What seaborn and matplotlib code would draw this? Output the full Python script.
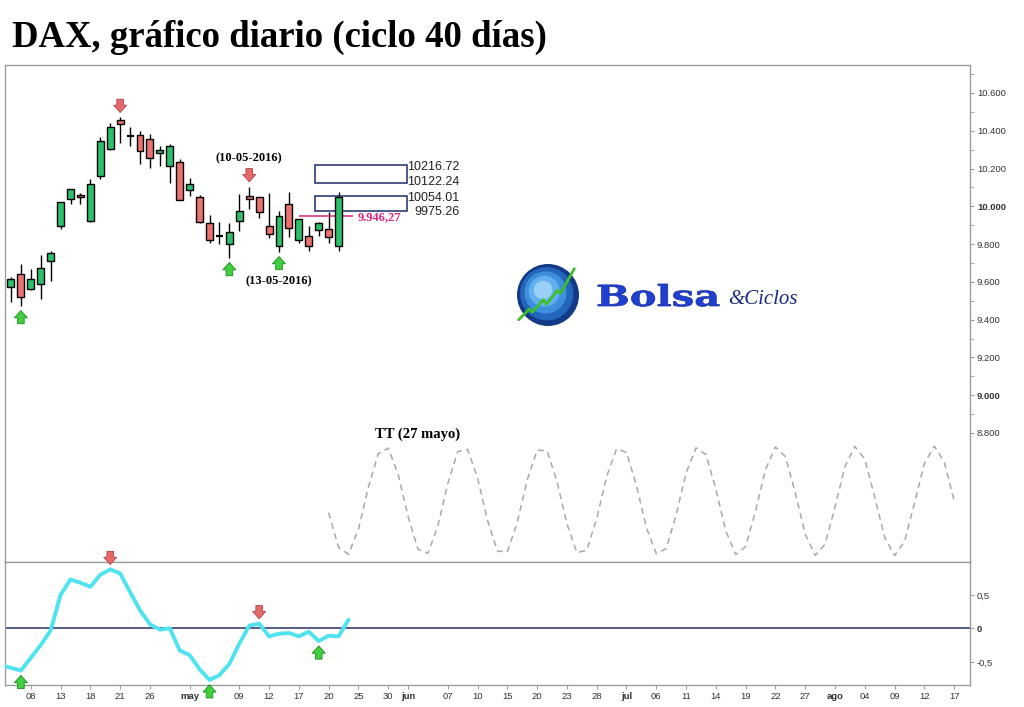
import numpy as np
import pandas as pd
import matplotlib
matplotlib.use("Agg")
import matplotlib.pyplot as plt
import seaborn as sns
from matplotlib.patches import Rectangle, Circle, PathPatch
from matplotlib.textpath import TextPath
from matplotlib.font_manager import FontProperties
from matplotlib import transforms

# DAX daily candles, 6 Apr - 23 May 2016
first_candle = "2016-04-06"
opens = [9571, 9640, 9564, 9587, 9709, 9894, 10037, 10060, 9924, 10162,
         10305, 10455, 10372, 10376, 10355, 10281, 10215, 10233, 10085, 10048,
         9914, 9843, 9801, 9921, 10055, 10049, 9896, 9788, 10011, 9820,
         9841, 9873, 9882, 9788]
highs = [9627, 9695, 9666, 9741, 9764, 10021, 10090, 10069, 10145, 10365,
         10443, 10471, 10418, 10399, 10383, 10318, 10328, 10251, 10148, 10060,
         9954, 9915, 9912, 10067, 10104, 10049, 10072, 9975, 10074, 9935,
         9894, 9917, 9968, 10074]
lows = [9495, 9474, 9557, 9509, 9606, 9882, 10011, 10012, 9915, 10143,
        10298, 10337, 10319, 10226, 10205, 10215, 10122, 10032, 10057, 9910,
        9804, 9799, 9728, 9871, 9988, 9938, 9831, 9760, 9838, 9804,
        9765, 9845, 9804, 9764]
closes = [9614, 9518, 9613, 9672, 9751, 10021, 10090, 10048, 10117, 10346,
          10418, 10434, 10372, 10291, 10254, 10296, 10318, 10032, 10117, 9919,
          9820, 9843, 9862, 9974, 10037, 9968, 9852, 9947, 9884, 9935,
          9788, 9910, 9836, 10051]

# cycle oscillator (lower panel), starts one session before the candles
osc_start = "2016-04-05"
osc_values = [-0.55, -0.59, -0.63, -0.44, -0.25, -0.03, 0.50, 0.73, 0.68, 0.62,
              0.80, 0.88, 0.82, 0.54, 0.27, 0.06, -0.02, 0.00, -0.33, -0.40,
              -0.61, -0.77, -0.70, -0.53, -0.23, 0.04, 0.07, -0.12, -0.08, -0.07,
              -0.12, -0.05, -0.19, -0.11, -0.12, 0.13]

# projected cycle (grey dashed wave in the price panel)
wave_start = "2016-05-20"
wave_values = [8378, 8194, 8158, 8290, 8512, 8691, 8720, 8581,
               8358, 8184, 8163, 8308, 8532, 8701, 8713, 8562,
               8338, 8175, 8170, 8327, 8551, 8709, 8706, 8543,
               8319, 8167, 8179, 8347, 8570, 8716, 8697, 8523,
               8300, 8161, 8188, 8366, 8588, 8722, 8686, 8503,
               8282, 8156, 8199, 8387, 8606, 8726, 8675, 8483,
               8265, 8152, 8211, 8407, 8622, 8729, 8662, 8462,
               8249, 8151, 8225, 8428, 8638, 8730, 8648, 8442]

# target zones and pivot level
box_levels = [(10216.72, 10122.24), (10054.01, 9975.26)]
box_from, box_to = "2016-05-19", "2016-06-01"
pivot_level = 9946.27
pivot_from = "2016-05-17"

# turning-point arrows
price_tops = ["2016-04-21", "2016-05-10"]
price_bottoms = ["2016-04-07", "2016-05-06", "2016-05-13"]
osc_tops = ["2016-04-20", "2016-05-11"]
osc_bottoms = ["2016-04-07", "2016-05-04", "2016-05-19"]

# x axis labels
tick_dates = ["2016-04-08", "2016-04-13", "2016-04-18", "2016-04-21", "2016-04-26",
              "2016-05-02", "2016-05-09", "2016-05-12", "2016-05-17", "2016-05-20",
              "2016-05-25", "2016-05-30", "2016-06-01", "2016-06-07", "2016-06-10",
              "2016-06-15", "2016-06-20", "2016-06-23", "2016-06-28", "2016-07-01",
              "2016-07-06", "2016-07-11", "2016-07-14", "2016-07-19", "2016-07-22",
              "2016-07-27", "2016-08-01", "2016-08-04", "2016-08-09", "2016-08-12",
              "2016-08-17"]
tick_labels = ["08", "13", "18", "21", "26", "may", "09", "12", "17", "20",
               "25", "30", "jun", "07", "10", "15", "20", "23", "28", "jul",
               "06", "11", "14", "19", "22", "27", "ago", "04", "09", "12", "17"]
month_labels = ["may", "jun", "jul", "ago"]

sns.set_style("white")
plt.rcParams["font.family"] = ["Liberation Sans", "DejaVu Sans"]

days = pd.bdate_range("2016-04-05", "2016-08-31")


def pos(d):
    return days.get_loc(pd.Timestamp(d))


GREEN = "#2cc06c"
RED = "#ec7272"
SPINE = "#9c9c9c"
TXT = "#333333"

fig = plt.figure(figsize=(10.24, 7.07), dpi=100)
ax = fig.add_axes([5 / 1024, 1 - 562 / 707, 965 / 1024, 497 / 707])
ax2 = fig.add_axes([5 / 1024, 1 - 685 / 707, 965 / 1024, 123 / 707], sharex=ax)

# ---- candles
o = np.array(opens, float)
h = np.array(highs, float)
l = np.array(lows, float)
c = np.array(closes, float)
x = pos(first_candle) + np.arange(len(o))
up = c > o
doji = c == o
ax.vlines(x, l, h, color="black", lw=1, zorder=2)
body = ~doji
ax.bar(x[body], np.abs(c - o)[body], bottom=np.minimum(o, c)[body], width=0.7,
       color=np.where(up, GREEN, RED)[body], edgecolor="black", lw=1, zorder=3)
ax.hlines(o[doji], x[doji] - 0.35, x[doji] + 0.35, color="black", lw=1.6, zorder=3)

# ---- projected cycle
wx = pos(wave_start) + np.arange(len(wave_values))
sns.lineplot(x=wx, y=wave_values, ax=ax, color="#a8a8a8", lw=1.1,
             dashes=False, linestyle=(0, (4, 3)), zorder=1)
ax.text(pos("2016-05-27") + 4, 8795, "TT (27 mayo)", ha="center", va="center",
        fontsize=10.5, fontweight="bold", family="Liberation Serif", color="black")

# ---- target boxes
bx0 = pos(box_from) - 0.35
bx1 = pos(box_to) - 0.1
label_shift = [(-9, 5), (-10, -3)]
for (top, bot), (dt, db) in zip(box_levels, label_shift):
    ax.add_patch(Rectangle((bx0, bot), bx1 - bx0, top - bot, fill=False,
                           ec="#1c2a6a", lw=1.1, zorder=2))
    ax.text(pos(box_to) + 5.2, top + dt, f"{top:.2f}", ha="right", va="center",
            fontsize=9, color="#222")
    ax.text(pos(box_to) + 5.2, bot + db, f"{bot:.2f}", ha="right", va="center",
            fontsize=9, color="#222")

xp = pos(pivot_from)
ax.hlines(pivot_level, xp, pos(box_to) - 5.5, color="#d6267f", lw=1.1, zorder=2)
ax.text(pos(box_to) - 5.1, pivot_level - 5,
        f"{pivot_level:,.2f}".replace(",", " ").replace(".", ",").replace(" ", "."),
        ha="left", va="center", fontsize=9, fontweight="bold",
        family="Liberation Serif", color="#d6267f")

ax.text(pos("2016-05-10"), 10256, "(10-05-2016)", ha="center", va="center",
        fontsize=9, fontweight="bold", family="Liberation Serif", color="black")
ax.text(pos("2016-05-13"), 9605, "(13-05-2016)", ha="center", va="center",
        fontsize=9, fontweight="bold", family="Liberation Serif", color="black")


def block_arrow(axis, xv, yv, pointing_up, gap=3.5, length=9.5):
    fc, ec = ("#3fcf3f", "#1d8a1d") if pointing_up else ("#e8686a", "#a94444")
    off = -(gap + length) if pointing_up else (gap + length)
    axis.annotate("", xy=(xv, yv), xytext=(0, off), textcoords="offset points",
                  annotation_clip=False,
                  arrowprops=dict(arrowstyle="simple,head_length=0.42,head_width=0.75,tail_width=0.38",
                                  mutation_scale=12.5, fc=fc, ec=ec, lw=0.6,
                                  shrinkA=0, shrinkB=gap), zorder=6)


for d in price_tops:
    k = pos(d) - pos(first_candle)
    block_arrow(ax, pos(d), highs[k], False)
for d in price_bottoms:
    k = pos(d) - pos(first_candle)
    block_arrow(ax, pos(d), lows[k], True)

# ---- oscillator
ox = pos(osc_start) + np.arange(len(osc_values))
sns.lineplot(x=ox, y=osc_values, ax=ax2, color="#4fe3f0", lw=2.8, zorder=3)
ax2.axhline(0, color="#2a2f6a", lw=1.1, zorder=2)
for d in osc_tops:
    block_arrow(ax2, pos(d), osc_values[pos(d) - pos(osc_start)], False)
for d in osc_bottoms:
    block_arrow(ax2, pos(d), osc_values[pos(d) - pos(osc_start)], True)

# ---- axes
ax.set_xlim(pos(first_candle) - 0.6, pos(first_candle) + 96.6)
ax.set_ylim(8117, 10748)
ax2.set_ylim(-0.846, 0.99)

yt = list(range(8800, 10601, 200))
ax.yaxis.tick_right()
ax.set_yticks(yt, [f"{v:,}".replace(",", ".") for v in yt])
ax.set_yticks(list(range(8900, 10701, 200)), minor=True)
for lab, v in zip(ax.get_yticklabels(), yt):
    if v % 1000 == 0:
        lab.set_fontweight("bold")
        lab.set_color("black")
        lab.set_fontsize(7.2)

ax2.yaxis.tick_right()
ax2.set_yticks([-0.5, 0, 0.5], ["-0,5", "0", "0,5"])
ax2.get_yticklabels()[1].set_fontweight("bold")

ax2.set_xticks([pos(d) for d in tick_dates], tick_labels)
for lab in ax2.get_xticklabels():
    if lab.get_text() in month_labels:
        lab.set_fontweight("bold")
        lab.set_color("black")
        lab.set_fontsize(7.5)

for a in (ax, ax2):
    for s in a.spines.values():
        s.set_color(SPINE)
        s.set_linewidth(1)
    a.tick_params(axis="y", which="both", right=True, left=False, length=3,
                  color=SPINE, labelsize=6.8, labelcolor=TXT, pad=2)
    a.tick_params(axis="y", which="minor", length=3)
    a.set_xlabel("")
    a.set_ylabel("")
ax.tick_params(axis="x", bottom=False, labelbottom=False)
ax2.tick_params(axis="x", bottom=True, length=3, color=SPINE, labelsize=6.8,
                labelcolor=TXT, pad=2)

# ---- title
fig.text(12 / 1024, 1 - 47 / 707, "DAX, gráfico diario (ciclo 40 días)",
         fontsize=26.5, fontweight="bold", family="Liberation Serif",
         color="black", va="baseline")

# ---- logo
logo = fig.add_axes([517 / 1024, 1 - 326 / 707, 62 / 1024, 62 / 707])
logo.set_xlim(-1, 1)
logo.set_ylim(-1, 1)
logo.set_aspect("equal")
logo.axis("off")
for r, col, dx in zip([1.0, 0.86, 0.68, 0.5, 0.3],
                      ["#123a86", "#2566bd", "#3d8edc", "#62aeee", "#9ad0f8"],
                      [0, 0.04, 0.08, 0.12, 0.16]):
    logo.add_patch(Circle((-dx, dx), r, color=col, lw=0))
logo.plot([-0.95, -0.6, -0.5, -0.15, -0.05, 0.3, 0.4, 0.85],
          [-0.8, -0.45, -0.55, -0.15, -0.3, 0.15, 0.05, 0.85],
          color="#3fc02a", lw=2)

# wide "Bolsa" word: text path stretched horizontally, placed in pixels
word = TextPath((0, 0), "Bolsa", size=29,
                prop=FontProperties(family="DejaVu Serif", weight="bold"))
wide = transforms.Affine2D().scale(1.38, 1.0).translate(596, 707 - 306)
fig.add_artist(PathPatch(word, transform=wide + transforms.IdentityTransform(),
                         fc="#1f3fd0", ec="#1a2f9a", lw=0.5))
fig.text(728 / 1024, 1 - 304 / 707, "&Ciclos", fontsize=15, style="italic",
         family="Liberation Serif", color="#1a2a7a", va="baseline")

fig.savefig("out.png", dpi=100)
